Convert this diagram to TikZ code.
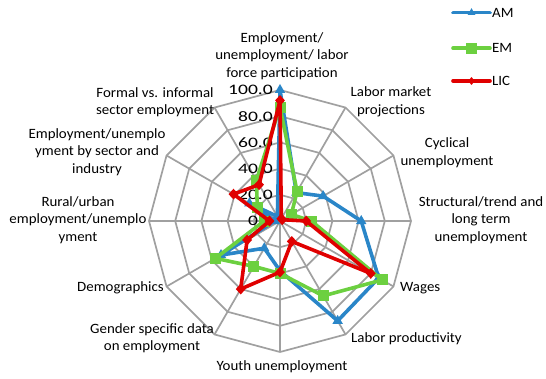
\documentclass[tikz,border=0pt]{standalone}
\usepackage{fontspec}
\setmainfont{Carlito}[FakeStretch=1.05]
\newfontfamily\tickfont{Carlito}[FakeStretch=1.35]
\usetikzlibrary{calc,shapes.geometric}
\definecolor{amc}{HTML}{2A86C8}
\definecolor{emc}{HTML}{6CD040}
\definecolor{licc}{HTML}{E00000}
\definecolor{gridc}{HTML}{A0A0A0}
\tikzset{
  gridline/.style={draw=gridc,line width=1.7pt},
  lab/.style={font=\fontsize{14.2}{17.5}\selectfont,align=center,inner sep=0pt},
  ticklab/.style={font=\tickfont\fontsize{14.5}{15}\selectfont,anchor=east,inner sep=0pt},
  amline/.style={draw=amc,line width=3.6pt,line join=round},
  emline/.style={draw=emc,line width=3.6pt,line join=round},
  licline/.style={draw=licc,line width=3.6pt,line join=round},
  ammark/.style={regular polygon,regular polygon sides=3,fill=amc,minimum size=12pt,inner sep=0pt},
  emmark/.style={rectangle,fill=emc,minimum size=11pt,inner sep=0pt},
  licmark/.style={diamond,fill=licc,minimum width=10pt,minimum height=11pt,inner sep=0pt},
}
\begin{document}
\begin{tikzpicture}[x=1pt,y=1pt]
\useasboundingbox (0,0) rectangle (546,378);
\coordinate (c) at (280,157);
% grid rings
\foreach \k in {1,...,5}{
  \draw[gridline] ($(c)+(90:{26.2*\k})$) \foreach \i in {1,...,11}{ -- ($(c)+({90-30*\i}:{26.2*\k})$)} -- cycle;
}
\foreach \i in {0,...,11}{
  \coordinate (ax\i) at ($(c)+({90-30*\i}:131)$);
  \draw[gridline] (c) -- (ax\i);
}
% tick labels
\foreach \k/\t in {0/0.0,1/20.0,2/40.0,3/60.0,4/80.0,5/100.0}{
  \node[ticklab] (tk\k) at (273,{157+26.2*\k}) {\t};
}
% data
\def\amdata{100,25,38,62,87,88,38,24,52,4,27,4}
\def\emdata{87,26,10,24,90,66,40,40,57,12,20,36}
\def\licdata{92,2,2,20,80,18,39,60,29,8,41,32}
\foreach \v [count=\i from 0] in \amdata { \coordinate (am\i) at ($(c)+({90-30*\i}:{1.31*\v})$); }
\foreach \v [count=\i from 0] in \emdata { \coordinate (em\i) at ($(c)+({90-30*\i}:{1.31*\v})$); }
\foreach \v [count=\i from 0] in \licdata { \coordinate (lic\i) at ($(c)+({90-30*\i}:{1.31*\v})$); }
\draw[amline] (am0) \foreach \i in {1,...,11}{ -- (am\i)} -- cycle;
\foreach \i in {0,...,11}{ \node[ammark] (amm\i) at (am\i) {}; }
\draw[emline] (em0) \foreach \i in {1,...,11}{ -- (em\i)} -- cycle;
\foreach \i in {0,...,11}{ \node[emmark] (emm\i) at (em\i) {}; }
\draw[licline] (lic0) \foreach \i in {1,...,11}{ -- (lic\i)} -- cycle;
\foreach \i in {0,...,11}{ \node[licmark] (licm\i) at (lic\i) {}; }
% axis labels
\node[lab] (l0) at (282,322) {Employment/\\unemployment/ labor\\force participation};
\node[lab] (l1) at (391,276) {Labor market\\projections};
\node[lab] (l2) at (447,225.5) {Cyclical\\unemployment};
\node[lab] (l3) at (481,158) {Structural/trend and\\long term\\unemployment};
\node[lab,anchor=west] (l4) at (400,90) {Wages};
\node[lab,anchor=west] (l5) at (351,39) {Labor productivity};
\node[lab] (l6) at (282,11) {Youth unemployment};
\node[lab] (l7) at (152,40) {Gender specific data\\on employment};
\node[lab,anchor=east] (l8) at (164,90) {Demographics};
\node[lab] (l9) at (78,158) {Rural/urban\\employment/unemplo\\yment};
\node[lab] (l10) at (97,226) {Employment/unemplo\\yment by sector and\\industry};
\node[lab] (l11) at (155,276) {Formal vs. informal\\sector employment};
% legend
\coordinate (g1a) at (453,365.3); \coordinate (g1b) at (490,365.3);
\coordinate (g2a) at (453,329.7); \coordinate (g2b) at (490,329.7);
\coordinate (g3a) at (453,297); \coordinate (g3b) at (490,297);
\draw[amline,line cap=round] (g1a) -- (g1b);
\node[ammark,minimum size=9pt] (gm1) at ($(g1a)!0.5!(g1b)$) {};
\node[lab,anchor=west] (gt1) at (492,365.3) {AM};
\draw[emline,line cap=round] (g2a) -- (g2b);
\node[emmark] (gm2) at ($(g2a)!0.5!(g2b)$) {};
\node[lab,anchor=west] (gt2) at (492,329.7) {EM};
\draw[licline,line cap=round] (g3a) -- (g3b);
\node[licmark,minimum width=7pt,minimum height=8pt] (gm3) at ($(g3a)!0.5!(g3b)$) {};
\node[lab,anchor=west] (gt3) at (492,297) {LIC};
\end{tikzpicture}
\end{document}
